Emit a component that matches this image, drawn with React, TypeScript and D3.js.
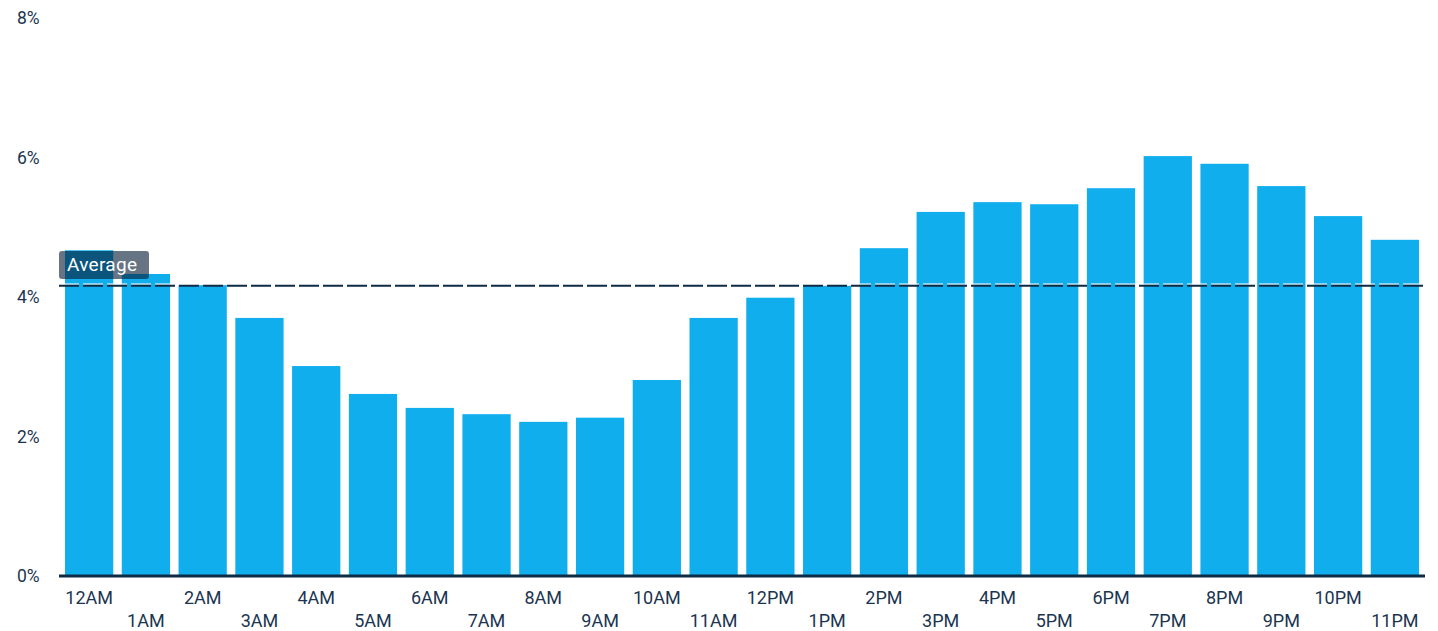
import React from "react";
import * as d3 from "d3";

const hours = ["12AM","1AM","2AM","3AM","4AM","5AM","6AM","7AM","8AM","9AM","10AM","11AM","12PM","1PM","2PM","3PM","4PM","5PM","6PM","7PM","8PM","9PM","10PM","11PM"];
const shares = [4.67,4.33,4.17,3.70,3.01,2.61,2.41,2.32,2.21,2.27,2.81,3.70,3.99,4.16,4.70,5.22,5.36,5.33,5.56,6.02,5.91,5.59,5.16,4.82];
const averageValue = 4.17;
const yTicks = [0, 2, 4, 6, 8];

const W = 1438, H = 631;
const textColor = "#1b3551";
const navy = "#0d2b45";
const barColor = "#11aeee";
const font = "Roboto, 'Noto Sans', sans-serif";

export default function App() {
  const x = d3.scaleBand<string>().domain(hours).range([65, 1419]).paddingInner(0.15).paddingOuter(0);
  const y = d3.scaleLinear().domain([0, 8]).range([576, 18]);
  const avgY = y(averageValue);
  return (
    <svg width={W} height={H} style={{ position: "absolute", left: 0, top: 0 }}>
      {yTicks.map(t => (
        <text key={t} x={17} y={y(t)} dy="0.35em" fontSize={17.5} fill={textColor} fontFamily={font}>{t}%</text>
      ))}
      {shares.map((v, i) => (
        <rect key={hours[i]} x={x(hours[i])} y={y(v)} width={x.bandwidth()} height={y(0) - y(v)} fill={barColor} />
      ))}
      <line x1={59} x2={1425} y1={y(0)} y2={y(0)} stroke={navy} strokeWidth={3} />
      {hours.map((h, i) => (
        <text key={h} x={(x(h) as number) + x.bandwidth() / 2} y={i % 2 === 0 ? 604 : 627} textAnchor="middle" fontSize={18} fill={textColor} fontFamily={font}>{h}</text>
      ))}
      <line x1={59} x2={1425} y1={avgY - 1} y2={avgY - 1} stroke="#ffffff" strokeOpacity={0.7} strokeWidth={2} strokeDasharray="20 4" />
      <line x1={59} x2={1425} y1={avgY + 0.5} y2={avgY + 0.5} stroke={navy} strokeWidth={2} strokeDasharray="20 4" />
      <rect x={59} y={251} width={90} height={28} rx={3} fill="#081f37" fillOpacity={0.62} />
      <text x={67} y={271} fontSize={19} fill="#ffffff" fontFamily={font} letterSpacing={0.3}>Average</text>
    </svg>
  );
}
